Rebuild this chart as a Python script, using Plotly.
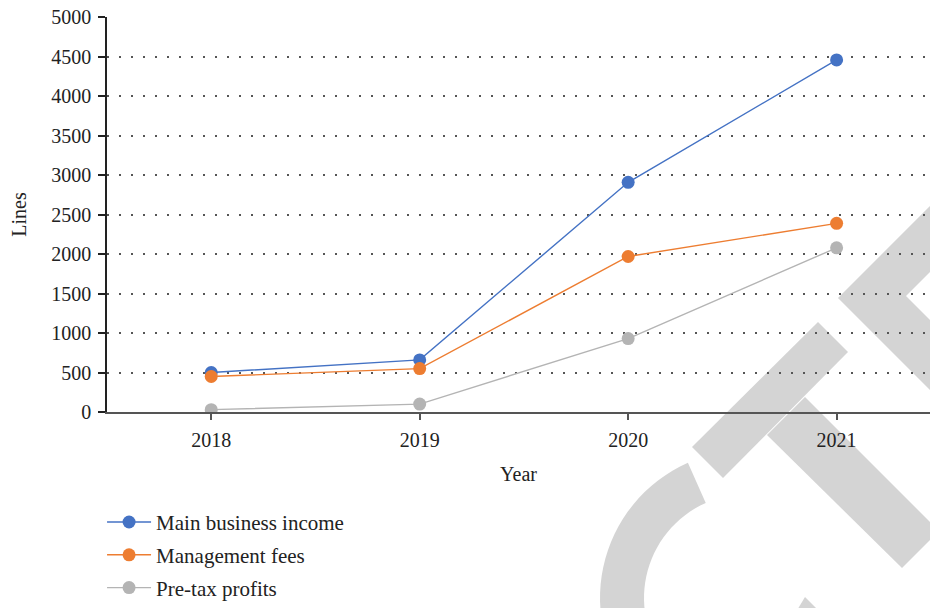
import math
import plotly.graph_objects as go

years = ["2018", "2019", "2020", "2021"]
main_income = [500, 660, 2910, 4460]
mgmt_fees = [450, 550, 1970, 2390]
pretax = [30, 100, 930, 2080]
series_names = ["Main business income", "Management fees", "Pre-tax profits"]
series_colors = ["#4472C4", "#ED7D31", "#B4B4B4"]
y_ticks = list(range(0, 5001, 500))

W_FIG, H_FIG = 930, 608
L, R, T, B = 107, 0, 17, 196
PW = W_FIG - L - R
PH = H_FIG - T - B
FONT = "Liberation Serif"


def px(x, y):
    return (x - L) / PW, (H_FIG - B - y) / PH


def path(points):
    s = ""
    for i, (x, y) in enumerate(points):
        xp, yp = px(x, y)
        s += ("M" if i == 0 else "L") + f"{xp:.5f},{yp:.5f} "
    return s + "Z"


fig = go.Figure()
for name, vals, col in zip(series_names, [main_income, mgmt_fees, pretax], series_colors):
    fig.add_trace(go.Scatter(
        x=years, y=vals, name=name, mode="lines+markers",
        line=dict(color=col, width=1.4),
        marker=dict(color=col, size=13),
        legendgroup=name,
    ))

# watermark (decoration)
wm = "#D4D4D4"
shapes = []
shapes.append(path([(692, 447), (818, 322), (848, 352), (723, 478)]))
shapes.append(path([(767, 435), (805, 397), (939, 531), (902, 568)]))
shapes.append(path([(930, 206), (838, 298), (932, 392), (940, 392), (940, 330), (906, 296), (940, 262), (940, 206)]))
cx, cy, ri, ro = 748, 598, 104, 148
a0 = math.atan2(481 - cy, 696 - cx)
end = -math.pi - 1.2
n = 40
angs = [a0 + (end - a0) * k / n for k in range(n + 1)]
outer = [(cx + ro * math.cos(a), cy + ro * math.sin(a)) for a in angs]
inner = [(cx + ri * math.cos(a), cy + ri * math.sin(a)) for a in angs][::-1]
shapes.append(path(outer + inner))
shapes.append(path([(805, 597), (830, 622), (790, 622)]))

for p in shapes:
    fig.add_shape(type="path", path=p, xref="paper", yref="paper",
                  fillcolor=wm, line=dict(width=0), layer="below")

fig.update_layout(
    width=W_FIG, height=H_FIG,
    margin=dict(l=L, r=R, t=T, b=B, pad=0),
    paper_bgcolor="white", plot_bgcolor="rgba(0,0,0,0)",
    font=dict(family=FONT, size=20, color="#222"),
    showlegend=True,
    legend=dict(
        x=-0.006, xanchor="left", y=-0.2275, yanchor="top",
        orientation="v", itemwidth=44, tracegroupgap=2.5,
        font=dict(family=FONT, size=21, color="#222"),
        bgcolor="rgba(0,0,0,0)",
    ),
    xaxis=dict(
        type="category", range=[-0.5, 3.448],
        showline=True, linecolor="#555", linewidth=2,
        ticks="outside", ticklen=6, tickcolor="#555", tickwidth=1.5,
        ticklabelstandoff=3,
        showgrid=False, zeroline=False,
        title=dict(text="Year", font=dict(size=20), standoff=17),
        tickfont=dict(size=20),
    ),
    yaxis=dict(
        range=[0, 5004], tickvals=y_ticks,
        showline=True, linecolor="#222", linewidth=1.5,
        ticks="outside", ticklen=7, tickcolor="#222", tickwidth=1.5,
        ticklabelstandoff=3,
        showgrid=True, gridcolor="#555", gridwidth=1.5, griddash="2px,10px",
        zeroline=False,
        title=dict(text="Lines", font=dict(size=20), standoff=19),
        tickfont=dict(size=20),
    ),
)

fig.write_html(
    "out.html",
    config={"displayModeBar": False},
    post_script="document.body.style.margin='0';document.body.style.overflow='hidden';",
)
